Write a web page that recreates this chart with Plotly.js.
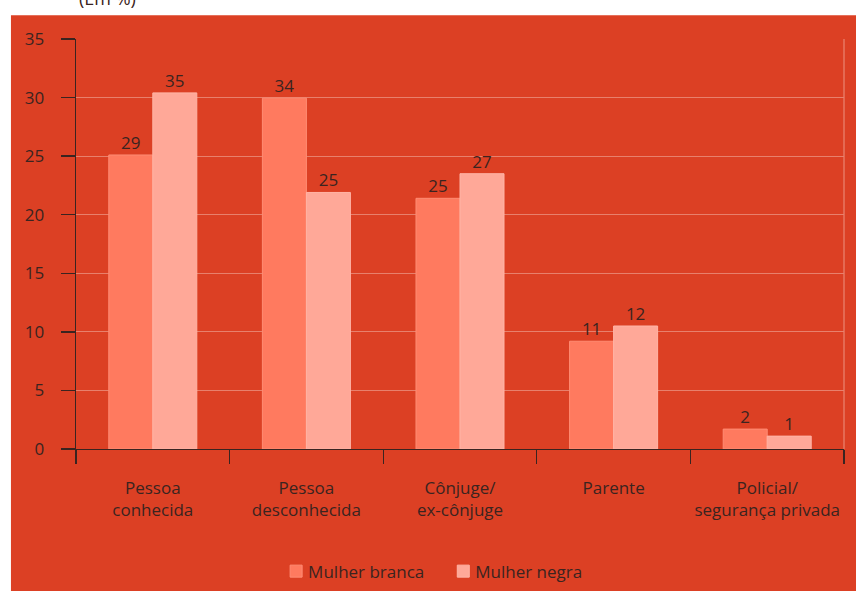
<!DOCTYPE html>
<html>
<head>
<meta charset="utf-8">
<script src="https://cdn.plot.ly/plotly-3.0.1.min.js"></script>
<style>html,body{margin:0;padding:0;background:#fff;}#chart{width:856px;height:591px;}</style>
</head>
<body>
<div id="chart"></div>
<script>
var categories = ["Pessoa<br>conhecida", "Pessoa<br>desconhecida", "Cônjuge/<br>ex-cônjuge", "Parente", "Policial/<br>segurança privada"];
var brancaValues = [25.1, 29.95, 21.4, 9.2, 1.7];
var negraValues = [30.4, 21.9, 23.5, 10.5, 1.1];
var brancaLabels = ["29", "34", "25", "11", "2"];
var negraLabels = ["35", "25", "27", "12", "1"];
var yTicks = [0, 5, 10, 15, 20, 25, 30, 35];

var FONT = '"Open Sans", "Noto Sans", sans-serif';
var TXT = '#3a2420';
var BG = '#dc4024';
var GRID = '#e8806c';
var FS = 17;

var traces = [
  {type: 'bar', name: 'Mulher branca', x: categories, y: brancaValues,
   text: brancaLabels, textposition: 'outside', texttemplate: '%{text}', cliponaxis: false,
   textfont: {family: FONT, size: FS, color: TXT},
   marker: {color: '#ff7a5f', line: {color: '#ff8c74', width: 1}}, hoverinfo: 'none'},
  {type: 'bar', name: 'Mulher negra', x: categories, y: negraValues,
   text: negraLabels, textposition: 'outside', texttemplate: '%{text}', cliponaxis: false,
   textfont: {family: FONT, size: FS, color: TXT},
   marker: {color: '#ffa898', line: {color: '#ffb4a6', width: 1}}, hoverinfo: 'none'}
];

var layout = {
  width: 856, height: 591,
  margin: {l: 76, r: 12.3, t: 38.8, b: 141.7, autoexpand: false},
  paper_bgcolor: BG, plot_bgcolor: BG,
  font: {family: FONT, size: FS, color: TXT},
  barmode: 'group', bargap: 0.427, bargroupgap: 0,
  showlegend: true,
  legend: {orientation: 'h', x: 0.465, xanchor: 'center', y: -0.299, yanchor: 'middle',
           font: {family: FONT, size: FS, color: TXT}, bgcolor: 'rgba(0,0,0,0)', itemwidth: 30},
  xaxis: {type: 'category', tickson: 'boundaries', ticks: 'outside', ticklen: 14, tickwidth: 1.3,
          tickangle: 0,
          tickcolor: TXT, showline: true, linecolor: TXT, linewidth: 1.3, showgrid: false,
          ticklabelstandoff: 23, tickfont: {family: FONT, size: FS, color: TXT}, fixedrange: true},
  yaxis: {range: [0, 35], tickvals: yTicks, ticks: 'outside', ticklen: 14, tickwidth: 1.3,
          tickcolor: TXT, showline: true, linecolor: TXT, linewidth: 1.3, showgrid: true,
          gridcolor: GRID, gridwidth: 1, zeroline: false, ticklabelstandoff: 13,
          tickfont: {family: FONT, size: FS, color: TXT}, fixedrange: true},
  shapes: [
    {type: 'rect', xref: 'paper', yref: 'paper', x0: -0.2, x1: 1.2, y0: 1.0579, y1: 1.2,
     fillcolor: '#ffffff', line: {width: 0}, layer: 'below'},
    {type: 'rect', xref: 'paper', yref: 'paper', x0: -0.2, x1: -0.0847, y0: -0.5, y1: 1.2,
     fillcolor: '#ffffff', line: {width: 0}, layer: 'below'},
    {type: 'line', xref: 'paper', yref: 'paper', x0: 1, x1: 1, y0: 0, y1: 1,
     line: {color: GRID, width: 1.3}, layer: 'below'}
  ],
  annotations: [
    {xref: 'paper', yref: 'paper', x: 0.0404, y: 1.1, xanchor: 'center', yanchor: 'middle',
     text: '(Em %)', showarrow: false, font: {family: FONT, size: 18, color: TXT}}
  ]
};

Plotly.newPlot('chart', traces, layout, {displayModeBar: false, staticPlot: true}).then(function () {
  // tighten the gap between legend swatch and its text, and space the entries apart
  var items = document.querySelectorAll('.legend .traces');
  items.forEach(function (g, i) {
    var t = g.querySelector('.legendtext');
    if (t) { t.setAttribute('x', parseFloat(t.getAttribute('x')) - 8); }
    if (i > 0) {
      var tr = g.getAttribute('transform') || '';
      var m = tr.match(/translate\(([-\d.]+),\s*([-\d.]+)\)/);
      if (m) { g.setAttribute('transform', 'translate(' + (parseFloat(m[1]) + 6) + ',' + m[2] + ')'); }
    }
  });
  // bring value labels a little closer to the bar tops, as in the reference
  document.querySelectorAll('text.bartext').forEach(function (t) {
    var tr = t.getAttribute('transform') || '';
    t.setAttribute('transform', 'translate(0,2) ' + tr);
  });
});
</script>
</body>
</html>
